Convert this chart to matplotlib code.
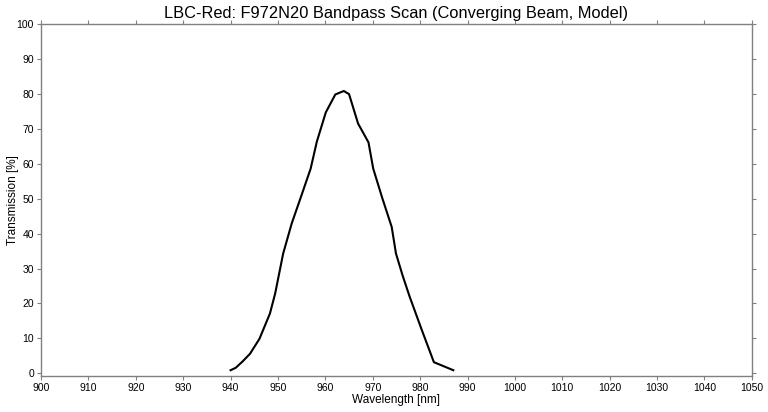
import matplotlib
matplotlib.use('Agg')
import matplotlib.pyplot as plt

# 讀取圖上的透射率曲線
wavelength = [940.0, 941.1, 942.6, 944.1, 946.1, 948.3, 949.4, 951.1, 952.9,
              954.9, 956.9, 958.2, 960.1, 962.1, 963.9, 965.0, 966.9, 969.1,
              970.1, 972.0, 974.0, 974.9, 976.3, 977.8, 980.3, 982.9, 987.0]
transmission = [0.9, 1.6, 3.5, 5.6, 9.9, 17.1, 22.8, 34.3, 42.9,
                50.7, 58.6, 66.3, 74.7, 79.8, 80.8, 79.9, 71.5, 66.1,
                58.6, 50.2, 41.9, 34.3, 28.0, 21.9, 12.6, 3.2, 0.9]

xticks = list(range(900, 1051, 10))
yticks = list(range(0, 101, 10))

plt.rcParams['font.family'] = ['Liberation Sans', 'DejaVu Sans']

fig = plt.figure(figsize=(7.68, 4.12), dpi=100)
ax = fig.add_axes([0.0534, 0.087, 0.9256, 0.855])

ax.plot(wavelength, transmission, color='black', linewidth=1.5)

ax.set_xlim(900, 1050)
ax.set_ylim(-0.8, 100)
ax.set_xticks(xticks)
ax.set_yticks(yticks)
ax.tick_params(direction='out', length=3, width=0.8, color='#808080',
               labelsize=7.5, top=True, right=True, pad=2)
for s in ax.spines.values():
    s.set_color('#808080')
    s.set_linewidth(1.0)

ax.set_xlabel('Wavelength [nm]', fontsize=8.5, labelpad=1)
ax.set_ylabel('Transmission [%]', fontsize=8.5)
ax.yaxis.set_label_coords(-0.031, 0.5)
ax.set_title('LBC-Red: F972N20 Bandpass Scan (Converging Beam, Model)',
             fontsize=11.8, pad=4)

fig.savefig('out.png', dpi=100)
